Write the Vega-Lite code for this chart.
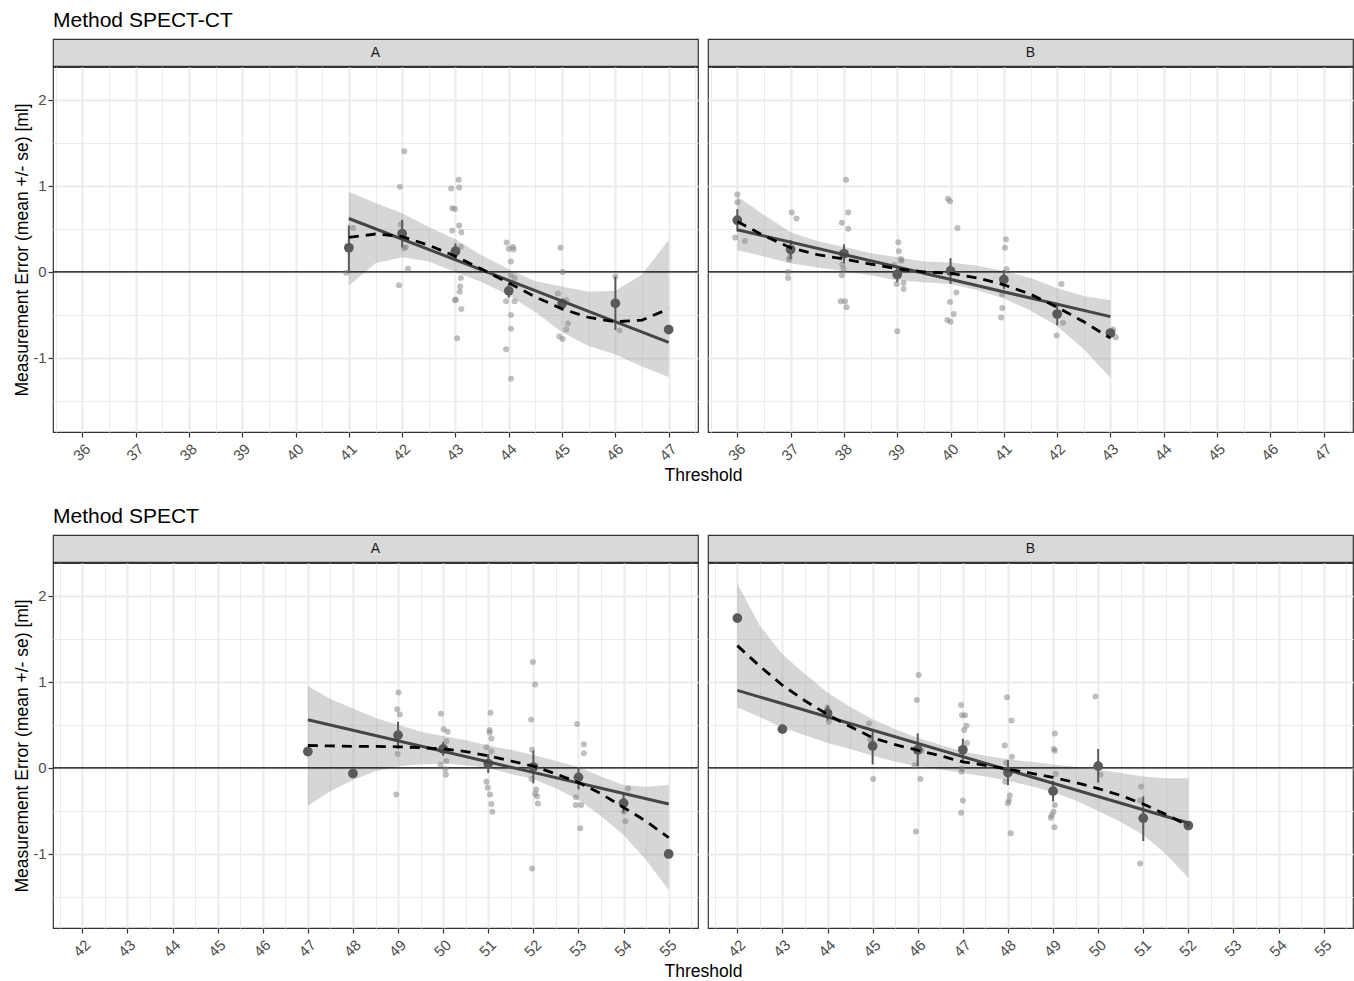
{
"$schema": "https://vega.github.io/schema/vega-lite/v6.json",
"background": "white",
"padding": {"left": 13, "top": 9, "right": 0, "bottom": 0},
"config": {"font": "Liberation Sans", "view": {"stroke": null}},
"datasets": {
"lm": [
{"m":"CT","p":"A","x":41,"y":0.62},{"m":"CT","p":"A","x":47,"y":-0.82},
{"m":"CT","p":"B","x":36,"y":0.49},{"m":"CT","p":"B","x":43,"y":-0.52},
{"m":"S","p":"A","x":47,"y":0.56},{"m":"S","p":"A","x":55,"y":-0.42},
{"m":"S","p":"B","x":42,"y":0.90},{"m":"S","p":"B","x":52,"y":-0.64}
],
"fit": [
{"m":"CT","p":"A","x":41,"y":0.40,"lo":-0.16,"hi":0.93},
{"m":"CT","p":"A","x":41.5,"y":0.44,"lo":0.10,"hi":0.80},
{"m":"CT","p":"A","x":42,"y":0.41,"lo":0.17,"hi":0.68},
{"m":"CT","p":"A","x":42.5,"y":0.31,"lo":0.12,"hi":0.52},
{"m":"CT","p":"A","x":43,"y":0.18,"lo":0.00,"hi":0.38},
{"m":"CT","p":"A","x":43.5,"y":0.03,"lo":-0.12,"hi":0.19},
{"m":"CT","p":"A","x":44,"y":-0.13,"lo":-0.27,"hi":0.03},
{"m":"CT","p":"A","x":44.5,"y":-0.29,"lo":-0.47,"hi":-0.11},
{"m":"CT","p":"A","x":45,"y":-0.43,"lo":-0.70,"hi":-0.17},
{"m":"CT","p":"A","x":45.5,"y":-0.53,"lo":-0.86,"hi":-0.23},
{"m":"CT","p":"A","x":46,"y":-0.58,"lo":-0.96,"hi":-0.22},
{"m":"CT","p":"A","x":46.5,"y":-0.56,"lo":-1.10,"hi":-0.03},
{"m":"CT","p":"A","x":47,"y":-0.43,"lo":-1.22,"hi":0.37},
{"m":"CT","p":"B","x":36,"y":0.585,"lo":0.25,"hi":0.88},
{"m":"CT","p":"B","x":36.5,"y":0.42,"lo":0.18,"hi":0.66},
{"m":"CT","p":"B","x":37,"y":0.28,"lo":0.10,"hi":0.46},
{"m":"CT","p":"B","x":37.5,"y":0.20,"lo":0.05,"hi":0.36},
{"m":"CT","p":"B","x":38,"y":0.15,"lo":0.01,"hi":0.29},
{"m":"CT","p":"B","x":38.5,"y":0.09,"lo":-0.04,"hi":0.22},
{"m":"CT","p":"B","x":39,"y":0.035,"lo":-0.10,"hi":0.17},
{"m":"CT","p":"B","x":39.5,"y":0.0,"lo":-0.12,"hi":0.12},
{"m":"CT","p":"B","x":40,"y":-0.015,"lo":-0.14,"hi":0.11},
{"m":"CT","p":"B","x":40.5,"y":-0.07,"lo":-0.21,"hi":0.07},
{"m":"CT","p":"B","x":41,"y":-0.15,"lo":-0.31,"hi":0.01},
{"m":"CT","p":"B","x":41.5,"y":-0.26,"lo":-0.45,"hi":-0.07},
{"m":"CT","p":"B","x":42,"y":-0.41,"lo":-0.63,"hi":-0.19},
{"m":"CT","p":"B","x":42.5,"y":-0.58,"lo":-0.90,"hi":-0.28},
{"m":"CT","p":"B","x":43,"y":-0.77,"lo":-1.23,"hi":-0.33},
{"m":"S","p":"A","x":47,"y":0.26,"lo":-0.44,"hi":0.95},
{"m":"S","p":"A","x":47.5,"y":0.255,"lo":-0.27,"hi":0.80},
{"m":"S","p":"A","x":48,"y":0.25,"lo":-0.14,"hi":0.69},
{"m":"S","p":"A","x":48.5,"y":0.25,"lo":-0.04,"hi":0.58},
{"m":"S","p":"A","x":49,"y":0.245,"lo":0.02,"hi":0.50},
{"m":"S","p":"A","x":49.5,"y":0.235,"lo":0.04,"hi":0.42},
{"m":"S","p":"A","x":50,"y":0.22,"lo":0.05,"hi":0.37},
{"m":"S","p":"A","x":50.5,"y":0.19,"lo":0.03,"hi":0.32},
{"m":"S","p":"A","x":51,"y":0.14,"lo":0.00,"hi":0.26},
{"m":"S","p":"A","x":51.5,"y":0.08,"lo":-0.07,"hi":0.21},
{"m":"S","p":"A","x":52,"y":0.02,"lo":-0.13,"hi":0.15},
{"m":"S","p":"A","x":52.5,"y":-0.07,"lo":-0.24,"hi":0.08},
{"m":"S","p":"A","x":53,"y":-0.17,"lo":-0.37,"hi":0.01},
{"m":"S","p":"A","x":53.5,"y":-0.30,"lo":-0.56,"hi":-0.10},
{"m":"S","p":"A","x":54,"y":-0.46,"lo":-0.78,"hi":-0.20},
{"m":"S","p":"A","x":54.5,"y":-0.62,"lo":-1.07,"hi":-0.22},
{"m":"S","p":"A","x":55,"y":-0.81,"lo":-1.42,"hi":-0.20},
{"m":"S","p":"B","x":42,"y":1.42,"lo":0.70,"hi":2.14},
{"m":"S","p":"B","x":42.5,"y":1.18,"lo":0.59,"hi":1.65},
{"m":"S","p":"B","x":43,"y":0.96,"lo":0.47,"hi":1.32},
{"m":"S","p":"B","x":43.5,"y":0.78,"lo":0.38,"hi":1.09},
{"m":"S","p":"B","x":44,"y":0.62,"lo":0.29,"hi":0.875},
{"m":"S","p":"B","x":44.5,"y":0.48,"lo":0.22,"hi":0.71},
{"m":"S","p":"B","x":45,"y":0.35,"lo":0.14,"hi":0.565},
{"m":"S","p":"B","x":45.5,"y":0.27,"lo":0.07,"hi":0.45},
{"m":"S","p":"B","x":46,"y":0.205,"lo":0.02,"hi":0.35},
{"m":"S","p":"B","x":46.5,"y":0.14,"lo":-0.02,"hi":0.27},
{"m":"S","p":"B","x":47,"y":0.07,"lo":-0.06,"hi":0.19},
{"m":"S","p":"B","x":47.5,"y":0.03,"lo":-0.10,"hi":0.14},
{"m":"S","p":"B","x":48,"y":-0.015,"lo":-0.15,"hi":0.10},
{"m":"S","p":"B","x":48.5,"y":-0.06,"lo":-0.21,"hi":0.07},
{"m":"S","p":"B","x":49,"y":-0.11,"lo":-0.28,"hi":0.04},
{"m":"S","p":"B","x":49.5,"y":-0.17,"lo":-0.38,"hi":0.01},
{"m":"S","p":"B","x":50,"y":-0.24,"lo":-0.50,"hi":-0.02},
{"m":"S","p":"B","x":50.5,"y":-0.32,"lo":-0.63,"hi":-0.06},
{"m":"S","p":"B","x":51,"y":-0.42,"lo":-0.78,"hi":-0.10},
{"m":"S","p":"B","x":51.5,"y":-0.54,"lo":-1.00,"hi":-0.12},
{"m":"S","p":"B","x":52,"y":-0.67,"lo":-1.28,"hi":-0.12}
],
"means": [
{"m":"CT","p":"A","x":41,"y":0.28,"lo":-0.01,"hi":0.54},
{"m":"CT","p":"A","x":42,"y":0.445,"lo":0.285,"hi":0.605},
{"m":"CT","p":"A","x":43,"y":0.24,"lo":0.15,"hi":0.33},
{"m":"CT","p":"A","x":44,"y":-0.22,"lo":-0.30,"hi":-0.14},
{"m":"CT","p":"A","x":45,"y":-0.37,"lo":-0.43,"hi":-0.31},
{"m":"CT","p":"A","x":46,"y":-0.365,"lo":-0.675,"hi":-0.055},
{"m":"CT","p":"A","x":47,"y":-0.67,"lo":-0.67,"hi":-0.67},
{"m":"CT","p":"B","x":36,"y":0.60,"lo":0.47,"hi":0.73},
{"m":"CT","p":"B","x":37,"y":0.26,"lo":0.15,"hi":0.37},
{"m":"CT","p":"B","x":38,"y":0.21,"lo":0.10,"hi":0.32},
{"m":"CT","p":"B","x":39,"y":-0.03,"lo":-0.12,"hi":0.06},
{"m":"CT","p":"B","x":40,"y":0.01,"lo":-0.14,"hi":0.16},
{"m":"CT","p":"B","x":41,"y":-0.09,"lo":-0.20,"hi":0.02},
{"m":"CT","p":"B","x":42,"y":-0.49,"lo":-0.62,"hi":-0.36},
{"m":"CT","p":"B","x":43,"y":-0.71,"lo":-0.74,"hi":-0.68},
{"m":"S","p":"A","x":47,"y":0.19,"lo":0.19,"hi":0.19},
{"m":"S","p":"A","x":48,"y":-0.065,"lo":-0.065,"hi":-0.065},
{"m":"S","p":"A","x":49,"y":0.38,"lo":0.22,"hi":0.535},
{"m":"S","p":"A","x":50,"y":0.22,"lo":0.14,"hi":0.30},
{"m":"S","p":"A","x":51,"y":0.05,"lo":-0.06,"hi":0.16},
{"m":"S","p":"A","x":52,"y":0.01,"lo":-0.18,"hi":0.20},
{"m":"S","p":"A","x":53,"y":-0.11,"lo":-0.25,"hi":0.01},
{"m":"S","p":"A","x":54,"y":-0.41,"lo":-0.52,"hi":-0.30},
{"m":"S","p":"A","x":55,"y":-1.0,"lo":-1.0,"hi":-1.0},
{"m":"S","p":"B","x":42,"y":1.74,"lo":1.74,"hi":1.74},
{"m":"S","p":"B","x":43,"y":0.45,"lo":0.45,"hi":0.45},
{"m":"S","p":"B","x":44,"y":0.635,"lo":0.55,"hi":0.72},
{"m":"S","p":"B","x":45,"y":0.255,"lo":0.04,"hi":0.45},
{"m":"S","p":"B","x":46,"y":0.21,"lo":0.02,"hi":0.40},
{"m":"S","p":"B","x":47,"y":0.21,"lo":0.08,"hi":0.34},
{"m":"S","p":"B","x":48,"y":-0.055,"lo":-0.20,"hi":0.09},
{"m":"S","p":"B","x":49,"y":-0.27,"lo":-0.39,"hi":-0.15},
{"m":"S","p":"B","x":50,"y":0.02,"lo":-0.17,"hi":0.22},
{"m":"S","p":"B","x":51,"y":-0.585,"lo":-0.85,"hi":-0.33},
{"m":"S","p":"B","x":52,"y":-0.67,"lo":-0.67,"hi":-0.67}
],
"pts": [
{"m":"CT","p":"A","x":41.08,"y":0.51},{"m":"CT","p":"A","x":40.95,"y":-0.01},
{"m":"CT","p":"A","x":42.04,"y":1.40},{"m":"CT","p":"A","x":41.96,"y":0.99},{"m":"CT","p":"A","x":41.97,"y":0.55},{"m":"CT","p":"A","x":42.07,"y":0.29},{"m":"CT","p":"A","x":42.04,"y":0.275},{"m":"CT","p":"A","x":42.11,"y":0.035},{"m":"CT","p":"A","x":41.94,"y":-0.155},
{"m":"CT","p":"A","x":43.06,"y":1.07},{"m":"CT","p":"A","x":42.92,"y":0.97},{"m":"CT","p":"A","x":43.07,"y":0.98},{"m":"CT","p":"A","x":42.94,"y":0.74},{"m":"CT","p":"A","x":42.99,"y":0.73},{"m":"CT","p":"A","x":43.07,"y":0.54},{"m":"CT","p":"A","x":42.94,"y":0.48},{"m":"CT","p":"A","x":43.11,"y":0.46},{"m":"CT","p":"A","x":43.10,"y":0.29},{"m":"CT","p":"A","x":43.10,"y":-0.07},{"m":"CT","p":"A","x":43.09,"y":-0.17},{"m":"CT","p":"A","x":43.08,"y":-0.23},{"m":"CT","p":"A","x":42.99,"y":-0.33},{"m":"CT","p":"A","x":43.01,"y":-0.32},{"m":"CT","p":"A","x":43.11,"y":-0.43},{"m":"CT","p":"A","x":43.03,"y":-0.77},
{"m":"CT","p":"A","x":43.96,"y":0.34},{"m":"CT","p":"A","x":44.08,"y":0.29},{"m":"CT","p":"A","x":44.0,"y":0.27},{"m":"CT","p":"A","x":44.09,"y":0.26},{"m":"CT","p":"A","x":44.04,"y":0.12},{"m":"CT","p":"A","x":44.04,"y":-0.035},{"m":"CT","p":"A","x":44.11,"y":-0.07},{"m":"CT","p":"A","x":43.95,"y":-0.34},{"m":"CT","p":"A","x":44.11,"y":-0.34},{"m":"CT","p":"A","x":44.04,"y":-0.5},{"m":"CT","p":"A","x":44.04,"y":-0.66},{"m":"CT","p":"A","x":43.95,"y":-0.90},{"m":"CT","p":"A","x":44.04,"y":-1.24},
{"m":"CT","p":"A","x":44.97,"y":0.28},{"m":"CT","p":"A","x":45.01,"y":0.0},{"m":"CT","p":"A","x":44.92,"y":-0.25},{"m":"CT","p":"A","x":45.08,"y":-0.33},{"m":"CT","p":"A","x":45.11,"y":-0.60},{"m":"CT","p":"A","x":45.08,"y":-0.67},{"m":"CT","p":"A","x":44.95,"y":-0.75},{"m":"CT","p":"A","x":45.01,"y":-0.78},
{"m":"CT","p":"A","x":46.0,"y":-0.055},{"m":"CT","p":"A","x":46.08,"y":-0.68},
{"m":"CT","p":"A","x":47.01,"y":-0.67},
{"m":"CT","p":"B","x":36.0,"y":0.90},{"m":"CT","p":"B","x":36.0,"y":0.81},{"m":"CT","p":"B","x":35.96,"y":0.40},{"m":"CT","p":"B","x":36.14,"y":0.36},
{"m":"CT","p":"B","x":37.02,"y":0.69},{"m":"CT","p":"B","x":37.11,"y":0.62},{"m":"CT","p":"B","x":36.98,"y":0.17},{"m":"CT","p":"B","x":36.97,"y":0.14},{"m":"CT","p":"B","x":36.95,"y":0.0},{"m":"CT","p":"B","x":36.95,"y":-0.07},
{"m":"CT","p":"B","x":38.04,"y":1.07},{"m":"CT","p":"B","x":38.08,"y":0.69},{"m":"CT","p":"B","x":37.96,"y":0.57},{"m":"CT","p":"B","x":38.08,"y":0.50},{"m":"CT","p":"B","x":37.97,"y":0.09},{"m":"CT","p":"B","x":37.99,"y":0.035},{"m":"CT","p":"B","x":37.96,"y":-0.04},{"m":"CT","p":"B","x":37.94,"y":-0.34},{"m":"CT","p":"B","x":38.02,"y":-0.34},{"m":"CT","p":"B","x":38.05,"y":-0.41},
{"m":"CT","p":"B","x":39.02,"y":0.345},{"m":"CT","p":"B","x":39.03,"y":0.24},{"m":"CT","p":"B","x":39.07,"y":0.15},{"m":"CT","p":"B","x":39.08,"y":0.13},{"m":"CT","p":"B","x":38.94,"y":0.08},{"m":"CT","p":"B","x":38.99,"y":-0.14},{"m":"CT","p":"B","x":39.12,"y":-0.13},{"m":"CT","p":"B","x":39.12,"y":-0.20},{"m":"CT","p":"B","x":39.0,"y":-0.69},
{"m":"CT","p":"B","x":39.95,"y":0.85},{"m":"CT","p":"B","x":39.99,"y":0.82},{"m":"CT","p":"B","x":40.13,"y":0.51},{"m":"CT","p":"B","x":39.99,"y":0.04},{"m":"CT","p":"B","x":40.11,"y":-0.24},{"m":"CT","p":"B","x":39.99,"y":-0.35},{"m":"CT","p":"B","x":40.06,"y":-0.49},{"m":"CT","p":"B","x":39.94,"y":-0.56},{"m":"CT","p":"B","x":40.0,"y":-0.58},
{"m":"CT","p":"B","x":41.04,"y":0.38},{"m":"CT","p":"B","x":41.02,"y":0.28},{"m":"CT","p":"B","x":41.05,"y":0.03},{"m":"CT","p":"B","x":40.97,"y":-0.26},{"m":"CT","p":"B","x":40.97,"y":-0.42},{"m":"CT","p":"B","x":40.95,"y":-0.53},
{"m":"CT","p":"B","x":42.08,"y":-0.14},{"m":"CT","p":"B","x":42.03,"y":-0.49},{"m":"CT","p":"B","x":42.11,"y":-0.59},{"m":"CT","p":"B","x":41.99,"y":-0.74},
{"m":"CT","p":"B","x":43.05,"y":-0.67},{"m":"CT","p":"B","x":43.1,"y":-0.76},{"m":"CT","p":"B","x":43.01,"y":-0.71},
{"m":"S","p":"A","x":47.0,"y":0.19},{"m":"S","p":"A","x":48.0,"y":-0.065},
{"m":"S","p":"A","x":49.01,"y":0.875},{"m":"S","p":"A","x":48.98,"y":0.68},{"m":"S","p":"A","x":49.04,"y":0.62},{"m":"S","p":"A","x":48.99,"y":0.16},{"m":"S","p":"A","x":48.96,"y":-0.31},
{"m":"S","p":"A","x":49.95,"y":0.63},{"m":"S","p":"A","x":50.01,"y":0.45},{"m":"S","p":"A","x":50.10,"y":0.42},{"m":"S","p":"A","x":50.07,"y":0.31},{"m":"S","p":"A","x":50.03,"y":0.24},{"m":"S","p":"A","x":50.07,"y":0.08},{"m":"S","p":"A","x":49.94,"y":0.035},{"m":"S","p":"A","x":50.05,"y":-0.015},{"m":"S","p":"A","x":50.06,"y":-0.08},
{"m":"S","p":"A","x":51.05,"y":0.64},{"m":"S","p":"A","x":51.03,"y":0.44},{"m":"S","p":"A","x":51.03,"y":0.41},{"m":"S","p":"A","x":51.07,"y":0.34},{"m":"S","p":"A","x":50.96,"y":0.24},{"m":"S","p":"A","x":51.07,"y":0.19},{"m":"S","p":"A","x":50.96,"y":-0.16},{"m":"S","p":"A","x":50.99,"y":-0.23},{"m":"S","p":"A","x":51.04,"y":-0.31},{"m":"S","p":"A","x":51.07,"y":-0.42},{"m":"S","p":"A","x":51.09,"y":-0.51},
{"m":"S","p":"A","x":51.99,"y":1.23},{"m":"S","p":"A","x":52.04,"y":0.97},{"m":"S","p":"A","x":51.95,"y":0.56},{"m":"S","p":"A","x":51.97,"y":0.21},{"m":"S","p":"A","x":51.96,"y":-0.13},{"m":"S","p":"A","x":52.06,"y":-0.25},{"m":"S","p":"A","x":52.08,"y":-0.33},{"m":"S","p":"A","x":52.04,"y":-0.30},{"m":"S","p":"A","x":52.1,"y":-0.415},{"m":"S","p":"A","x":51.97,"y":-1.17},
{"m":"S","p":"A","x":52.97,"y":0.51},{"m":"S","p":"A","x":53.12,"y":0.275},{"m":"S","p":"A","x":53.12,"y":0.17},{"m":"S","p":"A","x":52.94,"y":-0.34},{"m":"S","p":"A","x":52.94,"y":-0.43},{"m":"S","p":"A","x":53.06,"y":-0.43},{"m":"S","p":"A","x":53.04,"y":-0.70},
{"m":"S","p":"A","x":54.1,"y":-0.24},{"m":"S","p":"A","x":54.01,"y":-0.51},{"m":"S","p":"A","x":54.04,"y":-0.62},
{"m":"S","p":"A","x":55.0,"y":-1.0},
{"m":"S","p":"B","x":42.0,"y":1.74},{"m":"S","p":"B","x":43.0,"y":0.45},
{"m":"S","p":"B","x":44.03,"y":0.535},{"m":"S","p":"B","x":44.0,"y":0.70},
{"m":"S","p":"B","x":44.92,"y":0.515},{"m":"S","p":"B","x":44.94,"y":0.33},{"m":"S","p":"B","x":45.01,"y":-0.13},
{"m":"S","p":"B","x":46.02,"y":1.08},{"m":"S","p":"B","x":45.98,"y":0.79},{"m":"S","p":"B","x":46.09,"y":0.20},{"m":"S","p":"B","x":45.93,"y":0.03},{"m":"S","p":"B","x":46.06,"y":-0.13},{"m":"S","p":"B","x":45.96,"y":-0.74},
{"m":"S","p":"B","x":46.96,"y":0.73},{"m":"S","p":"B","x":46.98,"y":0.61},{"m":"S","p":"B","x":47.05,"y":0.61},{"m":"S","p":"B","x":47.08,"y":0.49},{"m":"S","p":"B","x":47.03,"y":0.44},{"m":"S","p":"B","x":47.09,"y":0.29},{"m":"S","p":"B","x":46.98,"y":-0.01},{"m":"S","p":"B","x":46.97,"y":-0.045},{"m":"S","p":"B","x":47.0,"y":-0.38},{"m":"S","p":"B","x":46.96,"y":-0.52},
{"m":"S","p":"B","x":47.98,"y":0.82},{"m":"S","p":"B","x":48.08,"y":0.55},{"m":"S","p":"B","x":47.93,"y":0.26},{"m":"S","p":"B","x":48.09,"y":0.13},{"m":"S","p":"B","x":47.96,"y":0.06},{"m":"S","p":"B","x":47.94,"y":-0.16},{"m":"S","p":"B","x":48.04,"y":-0.32},{"m":"S","p":"B","x":48.02,"y":-0.38},{"m":"S","p":"B","x":48.0,"y":-0.41},{"m":"S","p":"B","x":48.06,"y":-0.76},
{"m":"S","p":"B","x":49.04,"y":0.40},{"m":"S","p":"B","x":49.02,"y":0.22},{"m":"S","p":"B","x":49.04,"y":0.20},{"m":"S","p":"B","x":49.06,"y":-0.07},{"m":"S","p":"B","x":49.04,"y":-0.43},{"m":"S","p":"B","x":49.01,"y":-0.51},{"m":"S","p":"B","x":48.95,"y":-0.58},{"m":"S","p":"B","x":48.97,"y":-0.55},{"m":"S","p":"B","x":49.03,"y":-0.69},
{"m":"S","p":"B","x":49.94,"y":0.83},{"m":"S","p":"B","x":50.05,"y":-0.08},
{"m":"S","p":"B","x":50.95,"y":-0.22},{"m":"S","p":"B","x":50.93,"y":-0.38},{"m":"S","p":"B","x":50.93,"y":-1.11},
{"m":"S","p":"B","x":52.0,"y":-0.67}
]
},
"spacing": 20,
"vconcat": [
{
"spacing": -1,
"vconcat": [
{"hconcat": [
{"width": 645, "height": 27, "view": {"fill": "#D9D9D9", "stroke": "#333333", "strokeWidth": 1.2},
 "title": {"text": "Method SPECT-CT", "anchor": "start", "frame": "group", "fontSize": 21, "fontWeight": "normal", "color": "#000000", "font": "Liberation Sans", "baseline": "alphabetic", "offset": -9},
 "data": {"values": [{"s": "A"}]}, "mark": {"type": "text", "fontSize": 14, "color": "#1A1A1A", "font": "Liberation Sans"}, "encoding": {"text": {"field": "s", "type": "nominal"}}},
{"width": 645, "height": 27, "view": {"fill": "#D9D9D9", "stroke": "#333333", "strokeWidth": 1.2},
 "data": {"values": [{"s": "B"}]}, "mark": {"type": "text", "fontSize": 14, "color": "#1A1A1A", "font": "Liberation Sans"}, "encoding": {"text": {"field": "s", "type": "nominal"}}}
], "spacing": 10, "bounds": "flush"},
{"hconcat": [
{"width": 645, "height": 365, "view": {"stroke": "#333333", "strokeWidth": 1.2},
 "resolve": {"axis": {"x": "independent"}},
 "layer": [
  {"data": {"name": "fit"}, "transform": [{"filter": "datum.m === 'CT' && datum.p === 'A'"}],
   "mark": {"type": "area", "color": "#999999", "opacity": 0.4},
   "encoding": {
    "x": {"field": "x", "type": "quantitative", "scale": {"domain": [35.45, 47.55], "nice": false, "zero": false},
      "axis": {"orient": "bottom", "title": null, "values": [35.5,36.5,37.5,38.5,39.5,40.5,41.5,42.5,43.5,44.5,45.5,46.5,47.5], "labels": false, "ticks": false, "domain": false, "grid": true, "gridColor": "#EBEBEB", "gridWidth": 1, "maxExtent": 0, "minExtent": 0}},
    "y": {"field": "lo", "type": "quantitative", "scale": {"domain": [-1.86, 2.38], "nice": false, "zero": false},
      "axis": {"title": "Measurement Error (mean +/- se) [ml]", "titleFontSize": 17.5, "titleFontWeight": "normal", "titleColor": "#000000", "titleFont": "Liberation Sans", "titlePadding": 1, "values": [-1.5,-1,-0.5,0,0.5,1,1.5,2], "labelExpr": "datum.value % 1 === 0 ? '' + datum.value : ''", "labelFontSize": 15, "labelColor": "#4D4D4D", "labelFont": "Liberation Sans", "labelPadding": 2, "labelOverlap": false, "labelFlush": false, "domain": false, "tickColor": "#333333", "tickWidth": 1.2, "tickSize": 5, "tickOpacity": {"condition": {"test": "datum.value % 1 === 0", "value": 1}, "value": 0}, "gridColor": "#EBEBEB", "gridWidth": {"condition": {"test": "datum.value % 1 === 0", "value": 2}, "value": 1}}},
    "y2": {"field": "hi"}}},
  {"data": {"values": [{"v": 0}]}, "mark": {"type": "rule", "color": "#000000", "strokeWidth": 1.3}, "encoding": {"y": {"field": "v", "type": "quantitative"}}},
  {"data": {"name": "pts"}, "transform": [{"filter": "datum.m === 'CT' && datum.p === 'A'"}], "mark": {"type": "circle", "size": 36, "color": "#808080", "opacity": 0.5},
   "encoding": {"x": {"field": "x", "type": "quantitative",
      "axis": {"orient": "bottom", "title": null, "values": [36,37,38,39,40,41,42,43,44,45,46,47], "labelAngle": -45, "labelAlign": "right", "labelBaseline": "top", "labelFontSize": 15, "labelColor": "#4D4D4D", "labelFont": "Liberation Sans", "labelPadding": 4, "labelOverlap": false, "labelFlush": false, "domain": false, "tickColor": "#333333", "tickWidth": 1.2, "tickSize": 5, "grid": true, "gridColor": "#EBEBEB", "gridWidth": 2}},
    "y": {"field": "y", "type": "quantitative"}}},
  {"data": {"name": "means"}, "transform": [{"filter": "datum.m === 'CT' && datum.p === 'A'"}], "mark": {"type": "rule", "color": "#5a5a5a", "strokeWidth": 2}, "encoding": {"x": {"field": "x", "type": "quantitative", "axis": null}, "y": {"field": "lo", "type": "quantitative"}, "y2": {"field": "hi"}}},
  {"data": {"name": "means"}, "transform": [{"filter": "datum.m === 'CT' && datum.p === 'A'"}], "mark": {"type": "circle", "size": 95, "color": "#5a5a5a", "opacity": 1}, "encoding": {"x": {"field": "x", "type": "quantitative", "axis": null}, "y": {"field": "y", "type": "quantitative"}}},
  {"data": {"name": "lm"}, "transform": [{"filter": "datum.m === 'CT' && datum.p === 'A'"}], "mark": {"type": "line", "color": "#454545", "strokeWidth": 3}, "encoding": {"x": {"field": "x", "type": "quantitative", "axis": null}, "y": {"field": "y", "type": "quantitative"}}},
  {"data": {"name": "fit"}, "transform": [{"filter": "datum.m === 'CT' && datum.p === 'A'"}], "mark": {"type": "line", "color": "#000000", "strokeWidth": 2.8, "strokeDash": [10, 7]}, "encoding": {"x": {"field": "x", "type": "quantitative", "axis": null}, "y": {"field": "y", "type": "quantitative"}}}
 ]},
{"width": 645, "height": 365, "view": {"stroke": "#333333", "strokeWidth": 1.2},
 "resolve": {"axis": {"x": "independent"}},
 "layer": [
  {"data": {"name": "fit"}, "transform": [{"filter": "datum.m === 'CT' && datum.p === 'B'"}],
   "mark": {"type": "area", "color": "#999999", "opacity": 0.4},
   "encoding": {
    "x": {"field": "x", "type": "quantitative", "scale": {"domain": [35.45, 47.55], "nice": false, "zero": false},
      "axis": {"orient": "bottom", "title": null, "values": [35.5,36.5,37.5,38.5,39.5,40.5,41.5,42.5,43.5,44.5,45.5,46.5,47.5], "labels": false, "ticks": false, "domain": false, "grid": true, "gridColor": "#EBEBEB", "gridWidth": 1, "maxExtent": 0, "minExtent": 0}},
    "y": {"field": "lo", "type": "quantitative", "scale": {"domain": [-1.86, 2.38], "nice": false, "zero": false},
      "axis": {"title": null, "values": [-1.5,-1,-0.5,0,0.5,1,1.5,2], "labels": false, "ticks": false, "domain": false, "gridColor": "#EBEBEB", "gridWidth": {"condition": {"test": "datum.value % 1 === 0", "value": 2}, "value": 1}}},
    "y2": {"field": "hi"}}},
  {"data": {"values": [{"v": 0}]}, "mark": {"type": "rule", "color": "#000000", "strokeWidth": 1.3}, "encoding": {"y": {"field": "v", "type": "quantitative"}}},
  {"data": {"name": "pts"}, "transform": [{"filter": "datum.m === 'CT' && datum.p === 'B'"}], "mark": {"type": "circle", "size": 36, "color": "#808080", "opacity": 0.5},
   "encoding": {"x": {"field": "x", "type": "quantitative",
      "axis": {"orient": "bottom", "title": "Threshold", "titleX": -5, "titleFontSize": 17.5, "titleFontWeight": "normal", "titleColor": "#000000", "titleFont": "Liberation Sans", "titlePadding": 3, "values": [36,37,38,39,40,41,42,43,44,45,46,47], "labelAngle": -45, "labelAlign": "right", "labelBaseline": "top", "labelFontSize": 15, "labelColor": "#4D4D4D", "labelFont": "Liberation Sans", "labelPadding": 4, "labelOverlap": false, "labelFlush": false, "domain": false, "tickColor": "#333333", "tickWidth": 1.2, "tickSize": 5, "grid": true, "gridColor": "#EBEBEB", "gridWidth": 2}},
    "y": {"field": "y", "type": "quantitative"}}},
  {"data": {"name": "means"}, "transform": [{"filter": "datum.m === 'CT' && datum.p === 'B'"}], "mark": {"type": "rule", "color": "#5a5a5a", "strokeWidth": 2}, "encoding": {"x": {"field": "x", "type": "quantitative", "axis": null}, "y": {"field": "lo", "type": "quantitative"}, "y2": {"field": "hi"}}},
  {"data": {"name": "means"}, "transform": [{"filter": "datum.m === 'CT' && datum.p === 'B'"}], "mark": {"type": "circle", "size": 95, "color": "#5a5a5a", "opacity": 1}, "encoding": {"x": {"field": "x", "type": "quantitative", "axis": null}, "y": {"field": "y", "type": "quantitative"}}},
  {"data": {"name": "lm"}, "transform": [{"filter": "datum.m === 'CT' && datum.p === 'B'"}], "mark": {"type": "line", "color": "#454545", "strokeWidth": 3}, "encoding": {"x": {"field": "x", "type": "quantitative", "axis": null}, "y": {"field": "y", "type": "quantitative"}}},
  {"data": {"name": "fit"}, "transform": [{"filter": "datum.m === 'CT' && datum.p === 'B'"}], "mark": {"type": "line", "color": "#000000", "strokeWidth": 2.8, "strokeDash": [10, 7]}, "encoding": {"x": {"field": "x", "type": "quantitative", "axis": null}, "y": {"field": "y", "type": "quantitative"}}}
 ]}
], "spacing": 10, "bounds": "flush"}
]
},
{
"spacing": -1,
"vconcat": [
{"hconcat": [
{"width": 645, "height": 27, "view": {"fill": "#D9D9D9", "stroke": "#333333", "strokeWidth": 1.2},
 "title": {"text": "Method SPECT", "anchor": "start", "frame": "group", "fontSize": 21, "fontWeight": "normal", "color": "#000000", "font": "Liberation Sans", "baseline": "alphabetic", "offset": -9},
 "data": {"values": [{"s": "A"}]}, "mark": {"type": "text", "fontSize": 14, "color": "#1A1A1A", "font": "Liberation Sans"}, "encoding": {"text": {"field": "s", "type": "nominal"}}},
{"width": 645, "height": 27, "view": {"fill": "#D9D9D9", "stroke": "#333333", "strokeWidth": 1.2},
 "data": {"values": [{"s": "B"}]}, "mark": {"type": "text", "fontSize": 14, "color": "#1A1A1A", "font": "Liberation Sans"}, "encoding": {"text": {"field": "s", "type": "nominal"}}}
], "spacing": 10, "bounds": "flush"},
{"hconcat": [
{"width": 645, "height": 365, "view": {"stroke": "#333333", "strokeWidth": 1.2},
 "resolve": {"axis": {"x": "independent"}},
 "layer": [
  {"data": {"name": "fit"}, "transform": [{"filter": "datum.m === 'S' && datum.p === 'A'"}],
   "mark": {"type": "area", "color": "#999999", "opacity": 0.4},
   "encoding": {
    "x": {"field": "x", "type": "quantitative", "scale": {"domain": [41.35, 55.65], "nice": false, "zero": false},
      "axis": {"orient": "bottom", "title": null, "values": [41.5,42.5,43.5,44.5,45.5,46.5,47.5,48.5,49.5,50.5,51.5,52.5,53.5,54.5,55.5], "labels": false, "ticks": false, "domain": false, "grid": true, "gridColor": "#EBEBEB", "gridWidth": 1, "maxExtent": 0, "minExtent": 0}},
    "y": {"field": "lo", "type": "quantitative", "scale": {"domain": [-1.86, 2.38], "nice": false, "zero": false},
      "axis": {"title": "Measurement Error (mean +/- se) [ml]", "titleFontSize": 17.5, "titleFontWeight": "normal", "titleColor": "#000000", "titleFont": "Liberation Sans", "titlePadding": 1, "values": [-1.5,-1,-0.5,0,0.5,1,1.5,2], "labelExpr": "datum.value % 1 === 0 ? '' + datum.value : ''", "labelFontSize": 15, "labelColor": "#4D4D4D", "labelFont": "Liberation Sans", "labelPadding": 2, "labelOverlap": false, "labelFlush": false, "domain": false, "tickColor": "#333333", "tickWidth": 1.2, "tickSize": 5, "tickOpacity": {"condition": {"test": "datum.value % 1 === 0", "value": 1}, "value": 0}, "gridColor": "#EBEBEB", "gridWidth": {"condition": {"test": "datum.value % 1 === 0", "value": 2}, "value": 1}}},
    "y2": {"field": "hi"}}},
  {"data": {"values": [{"v": 0}]}, "mark": {"type": "rule", "color": "#000000", "strokeWidth": 1.3}, "encoding": {"y": {"field": "v", "type": "quantitative"}}},
  {"data": {"name": "pts"}, "transform": [{"filter": "datum.m === 'S' && datum.p === 'A'"}], "mark": {"type": "circle", "size": 36, "color": "#808080", "opacity": 0.5},
   "encoding": {"x": {"field": "x", "type": "quantitative",
      "axis": {"orient": "bottom", "title": null, "values": [42,43,44,45,46,47,48,49,50,51,52,53,54,55], "labelAngle": -45, "labelAlign": "right", "labelBaseline": "top", "labelFontSize": 15, "labelColor": "#4D4D4D", "labelFont": "Liberation Sans", "labelPadding": 4, "labelOverlap": false, "labelFlush": false, "domain": false, "tickColor": "#333333", "tickWidth": 1.2, "tickSize": 5, "grid": true, "gridColor": "#EBEBEB", "gridWidth": 2}},
    "y": {"field": "y", "type": "quantitative"}}},
  {"data": {"name": "means"}, "transform": [{"filter": "datum.m === 'S' && datum.p === 'A'"}], "mark": {"type": "rule", "color": "#5a5a5a", "strokeWidth": 2}, "encoding": {"x": {"field": "x", "type": "quantitative", "axis": null}, "y": {"field": "lo", "type": "quantitative"}, "y2": {"field": "hi"}}},
  {"data": {"name": "means"}, "transform": [{"filter": "datum.m === 'S' && datum.p === 'A'"}], "mark": {"type": "circle", "size": 95, "color": "#5a5a5a", "opacity": 1}, "encoding": {"x": {"field": "x", "type": "quantitative", "axis": null}, "y": {"field": "y", "type": "quantitative"}}},
  {"data": {"name": "lm"}, "transform": [{"filter": "datum.m === 'S' && datum.p === 'A'"}], "mark": {"type": "line", "color": "#454545", "strokeWidth": 3}, "encoding": {"x": {"field": "x", "type": "quantitative", "axis": null}, "y": {"field": "y", "type": "quantitative"}}},
  {"data": {"name": "fit"}, "transform": [{"filter": "datum.m === 'S' && datum.p === 'A'"}], "mark": {"type": "line", "color": "#000000", "strokeWidth": 2.8, "strokeDash": [10, 7]}, "encoding": {"x": {"field": "x", "type": "quantitative", "axis": null}, "y": {"field": "y", "type": "quantitative"}}}
 ]},
{"width": 645, "height": 365, "view": {"stroke": "#333333", "strokeWidth": 1.2},
 "resolve": {"axis": {"x": "independent"}},
 "layer": [
  {"data": {"name": "fit"}, "transform": [{"filter": "datum.m === 'S' && datum.p === 'B'"}],
   "mark": {"type": "area", "color": "#999999", "opacity": 0.4},
   "encoding": {
    "x": {"field": "x", "type": "quantitative", "scale": {"domain": [41.35, 55.65], "nice": false, "zero": false},
      "axis": {"orient": "bottom", "title": null, "values": [41.5,42.5,43.5,44.5,45.5,46.5,47.5,48.5,49.5,50.5,51.5,52.5,53.5,54.5,55.5], "labels": false, "ticks": false, "domain": false, "grid": true, "gridColor": "#EBEBEB", "gridWidth": 1, "maxExtent": 0, "minExtent": 0}},
    "y": {"field": "lo", "type": "quantitative", "scale": {"domain": [-1.86, 2.38], "nice": false, "zero": false},
      "axis": {"title": null, "values": [-1.5,-1,-0.5,0,0.5,1,1.5,2], "labels": false, "ticks": false, "domain": false, "gridColor": "#EBEBEB", "gridWidth": {"condition": {"test": "datum.value % 1 === 0", "value": 2}, "value": 1}}},
    "y2": {"field": "hi"}}},
  {"data": {"values": [{"v": 0}]}, "mark": {"type": "rule", "color": "#000000", "strokeWidth": 1.3}, "encoding": {"y": {"field": "v", "type": "quantitative"}}},
  {"data": {"name": "pts"}, "transform": [{"filter": "datum.m === 'S' && datum.p === 'B'"}], "mark": {"type": "circle", "size": 36, "color": "#808080", "opacity": 0.5},
   "encoding": {"x": {"field": "x", "type": "quantitative",
      "axis": {"orient": "bottom", "title": "Threshold", "titleX": -5, "titleFontSize": 17.5, "titleFontWeight": "normal", "titleColor": "#000000", "titleFont": "Liberation Sans", "titlePadding": 3, "values": [42,43,44,45,46,47,48,49,50,51,52,53,54,55], "labelAngle": -45, "labelAlign": "right", "labelBaseline": "top", "labelFontSize": 15, "labelColor": "#4D4D4D", "labelFont": "Liberation Sans", "labelPadding": 4, "labelOverlap": false, "labelFlush": false, "domain": false, "tickColor": "#333333", "tickWidth": 1.2, "tickSize": 5, "grid": true, "gridColor": "#EBEBEB", "gridWidth": 2}},
    "y": {"field": "y", "type": "quantitative"}}},
  {"data": {"name": "means"}, "transform": [{"filter": "datum.m === 'S' && datum.p === 'B'"}], "mark": {"type": "rule", "color": "#5a5a5a", "strokeWidth": 2}, "encoding": {"x": {"field": "x", "type": "quantitative", "axis": null}, "y": {"field": "lo", "type": "quantitative"}, "y2": {"field": "hi"}}},
  {"data": {"name": "means"}, "transform": [{"filter": "datum.m === 'S' && datum.p === 'B'"}], "mark": {"type": "circle", "size": 95, "color": "#5a5a5a", "opacity": 1}, "encoding": {"x": {"field": "x", "type": "quantitative", "axis": null}, "y": {"field": "y", "type": "quantitative"}}},
  {"data": {"name": "lm"}, "transform": [{"filter": "datum.m === 'S' && datum.p === 'B'"}], "mark": {"type": "line", "color": "#454545", "strokeWidth": 3}, "encoding": {"x": {"field": "x", "type": "quantitative", "axis": null}, "y": {"field": "y", "type": "quantitative"}}},
  {"data": {"name": "fit"}, "transform": [{"filter": "datum.m === 'S' && datum.p === 'B'"}], "mark": {"type": "line", "color": "#000000", "strokeWidth": 2.8, "strokeDash": [10, 7]}, "encoding": {"x": {"field": "x", "type": "quantitative", "axis": null}, "y": {"field": "y", "type": "quantitative"}}}
 ]}
], "spacing": 10, "bounds": "flush"}
]
}
]
}
